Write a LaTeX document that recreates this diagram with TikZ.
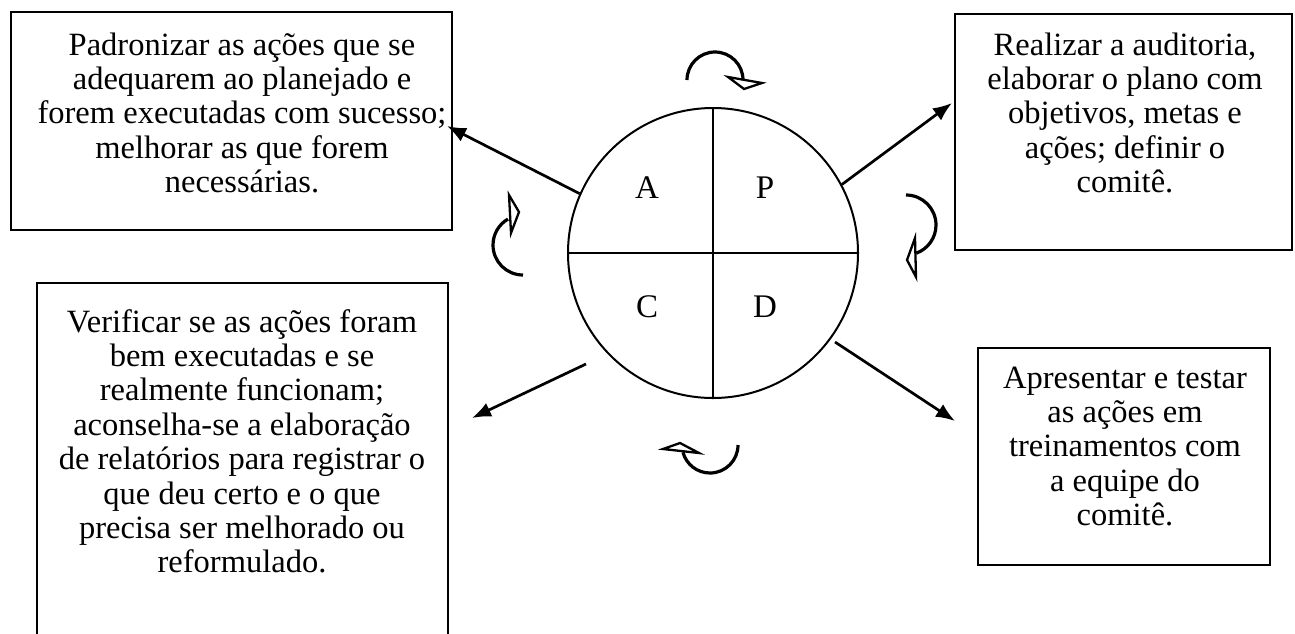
\documentclass[tikz,border=0pt]{standalone}
\usepackage{fontspec}
\setmainfont{Liberation Serif}
\usetikzlibrary{arrows.meta}

\begin{document}
\begin{tikzpicture}[x=1pt,y=-1pt,
  box/.style={draw, line width=2.8pt, inner sep=0pt},
  txt/.style={align=center, inner sep=0pt, anchor=base,
              font=\fontsize{32.5}{34.4}\selectfont},
  letter/.style={inner sep=0pt, font=\fontsize{33}{36}\selectfont},
  link/.style={line width=2.7pt, -{Latex[length=19pt,width=15pt]}},
  turn/.style={line width=3.2pt},
  turnhead/.style={line width=2.3pt, fill=white, line join=miter}
]
\useasboundingbox (0,0) rectangle (1295,633);

% outer boxes
\node[box, minimum width=441pt, minimum height=218pt] (actbox)   at (231.5,121)  {};
\node[box, minimum width=337pt, minimum height=236pt] (planbox)  at (1123.5,132) {};
\node[box, minimum width=411pt, minimum height=377pt] (checkbox) at (242.5,471.5) {};
\node[box, minimum width=292pt, minimum height=217pt] (dobox)    at (1124,456.5) {};

% box texts (each placed by the baseline of its last line)
\node[txt] (acttext) at (242,192.6)
  {Padronizar as ações que se\\adequarem ao planejado e\\forem executadas com sucesso;\\melhorar as que forem\\necessárias.};
\node[txt] (plantext) at (1125,192.6)
  {Realizar a auditoria,\\elaborar o plano com\\objetivos, metas e\\ações; definir o\\comitê.};
\node[txt] (checktext) at (242,572.8)
  {Verificar se as ações foram\\bem executadas e se\\realmente funcionam;\\aconselha-se a elaboração\\de relatórios para registrar o\\que deu certo e o que\\precisa ser melhorado ou\\reformulado.};
\node[txt] (dotext) at (1125,525.6)
  {Apresentar e testar\\as ações em\\treinamentos com\\a equipe do\\comitê.};

% PDCA circle
\node[draw, circle, line width=2pt, minimum size=290pt, inner sep=0pt] (cycle) at (713,253) {};
\draw[line width=2pt] (cycle.north) -- (cycle.south);
\draw[line width=2pt] (cycle.west) -- (cycle.east);
\node[letter] (la) at (647,188) {A};
\node[letter] (lp) at (765,188) {P};
\node[letter] (lc) at (647,307) {C};
\node[letter] (ld) at (765,307) {D};

% arrows from the circle to the boxes
\coordinate (cstart) at (586,364);
\coordinate (dstart) at (835,342);
\coordinate (atip) at (447,126);
\coordinate (ptip) at (952,103);
\coordinate (ctip) at (472,418);
\coordinate (dtip) at (955,421);
\draw[link] (cycle.156) -- (atip);
\draw[link] (cycle.28) -- (ptip);
\draw[link] (cstart) -- (ctip);
\draw[link] (dstart) -- (dtip);

% curved turning arrows around the circle
\draw[turn] (687,80) arc[start angle=180, end angle=360, radius=28];
\draw[turnhead] (728,77) -- (762,83) -- (744,89) -- cycle;

\draw[turn] (906,195) arc[start angle=270, end angle=430, radius=30];
\draw[turnhead] (915,238) -- (907,260) -- (916,277) -- cycle;

\draw[turn] (523,275) arc[start angle=90, end angle=240, radius=30];
\draw[turnhead] (509,195) -- (519,212) -- (511,233) -- cycle;

\draw[turn] (738,445) arc[start angle=0, end angle=165, radius=28];
\draw[turnhead] (663,449) -- (680,443) -- (699,453) -- cycle;
\end{tikzpicture}
\end{document}
